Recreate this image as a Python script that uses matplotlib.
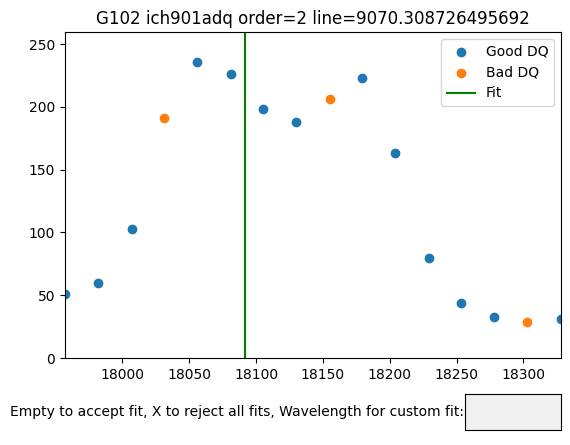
import matplotlib
matplotlib.use("Agg")
import matplotlib.pyplot as plt
from matplotlib.widgets import TextBox

wave = [17957, 17982, 18007, 18031, 18056, 18081, 18105, 18130, 18155, 18179,
        18204, 18229, 18253, 18278, 18303, 18328]
flux = [51, 60, 103, 191, 236, 226, 198, 188, 206, 223, 163, 80, 44, 33, 29, 31]
bad = [False, False, False, True, False, False, False, False, True, False,
       False, False, False, False, True, False]
fit_wave = 18092
title = "G102 ich901adq order=2 line=9070.308726495692"

good_x = [w for w, b in zip(wave, bad) if not b]
good_y = [f for f, b in zip(flux, bad) if not b]
bad_x = [w for w, b in zip(wave, bad) if b]
bad_y = [f for f, b in zip(flux, bad) if b]

fig = plt.figure(figsize=(5.7, 4.45), dpi=100)
ax = fig.add_axes([0.114, 0.1955, 0.87, 0.7325])
ax.scatter(good_x, good_y, label="Good DQ")
ax.scatter(bad_x, bad_y, label="Bad DQ")
ax.axvline(fit_wave, color="green", label="Fit")
ax.set_xlim(min(wave), max(wave))
ax.set_ylim(0, max(flux) * 1.1)
ax.set_title(title)
ax.legend(loc="upper right")

tax = fig.add_axes([0.816, 0.034, 0.168, 0.081])
tb = TextBox(tax, "Empty to accept fit, X to reject all fits, Wavelength for custom fit:",
             initial="")
tax.set_facecolor("#f0f0f0")

fig.savefig("out.png", dpi=100)
